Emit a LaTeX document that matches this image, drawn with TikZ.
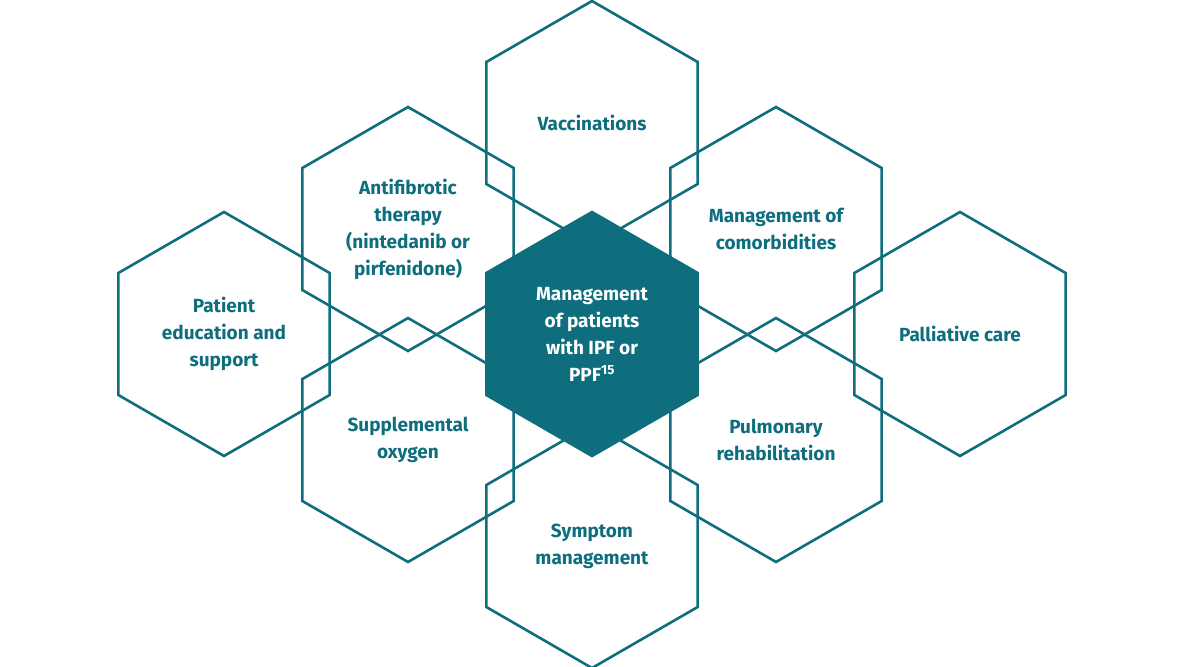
\documentclass[tikz,border=0pt]{standalone}
\usepackage{fontspec}
\setmainfont{Fira Sans}
\usetikzlibrary{shapes.geometric}
\definecolor{teal}{HTML}{0E6E7E}
\tikzset{
  hex/.style={regular polygon, regular polygon sides=6, shape border rotate=30,
    minimum size=244pt, inner sep=0pt, draw=teal, line width=2.6pt,
    text=teal, align=center, font=\fontsize{19}{27}\selectfont\bfseries},
  hexfill/.style={hex, fill=teal, text=white}
}
\begin{document}
\begin{tikzpicture}[x=1pt,y=-1pt]
  \useasboundingbox (0,0) rectangle (1184,667);
  \node[hex] (vacc) at (592,123) {Vaccinations};
  \node[hex] (anti) at (408,229) {Antifibrotic\\therapy\\(nintedanib or\\pirfenidone)};
  \node[hex] (comorb) at (776,229) {Management of\\comorbidities};
  \node[hex] (edu) at (224,334) {Patient\\education and\\support};
  \node[hex] (pall) at (960,334) {Palliative care};
  \node[hex] (oxy) at (408,440) {Supplemental\\oxygen};
  \node[hex] (pulm) at (776,440) {Pulmonary\\rehabilitation};
  \node[hex] (symp) at (592,546) {Symptom\\management};
  \node[hexfill] (mgmt) at (592,334) {Management\\of patients\\with IPF or\\PPF\textsuperscript{15}};
\end{tikzpicture}
\end{document}
